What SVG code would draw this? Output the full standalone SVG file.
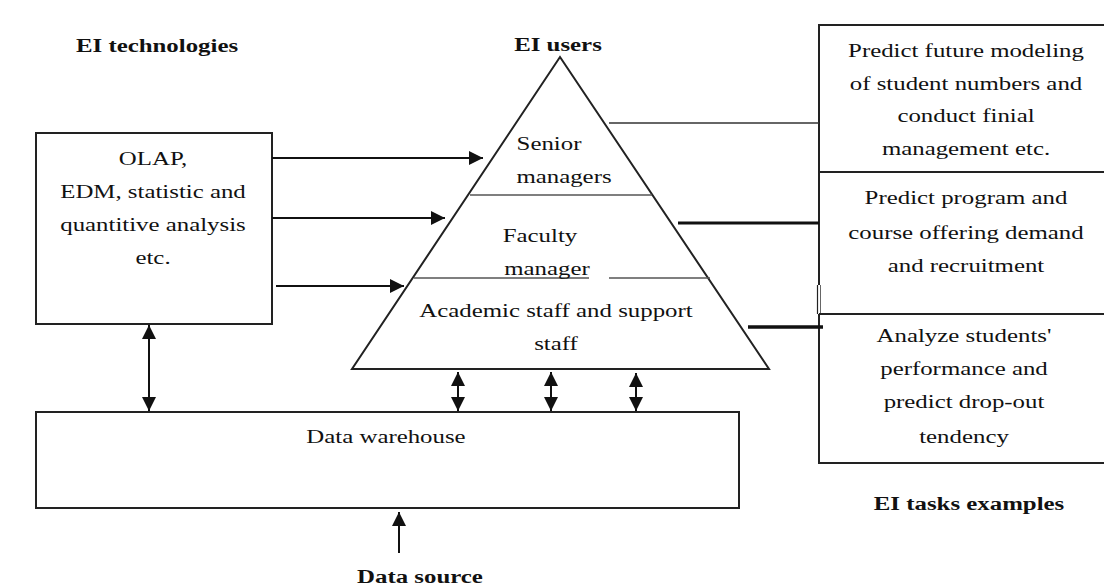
<svg xmlns="http://www.w3.org/2000/svg" width="1104" height="585" viewBox="0 0 1104 585">
  <style>
    .bg { fill: #ffffff; }
    .box { fill: none; stroke: #222; stroke-width: 2; }
    .div { fill: none; stroke: #555; stroke-width: 1.6; }
    .link { fill: none; stroke: #111; stroke-width: 2; }
    .t { font-family: "Liberation Serif", "Times New Roman", serif; font-size: 18px; fill: #111; text-anchor: middle; }
    .h { font-family: "Liberation Serif", "Times New Roman", serif; font-size: 18px; font-weight: bold; fill: #111; text-anchor: middle; }
  </style>
  <defs>
    <marker id="ah" viewBox="0 0 14 14" refX="14" refY="7" markerWidth="14" markerHeight="14" markerUnits="userSpaceOnUse" orient="auto-start-reverse">
      <path d="M0,0 L14,7 L0,14 z" fill="#111"/>
    </marker>
  </defs>

  <rect class="bg" x="0" y="0" width="1104" height="585"/>

  <!-- section headings -->
  <g id="headings">
    <text class="h" transform="matrix(1.38 0 0 1 157 52)">EI technologies</text>
    <text class="h" transform="matrix(1.38 0 0 1 558 51)">EI users</text>
    <text class="h" transform="matrix(1.38 0 0 1 969 510)">EI tasks examples</text>
    <text class="h" transform="matrix(1.38 0 0 1 420 583)">Data source</text>
  </g>

  <!-- analysis technologies -->
  <g id="technologies">
    <rect class="box" x="36" y="133" width="236" height="191"/>
    <text class="t" transform="matrix(1.38 0 0 1 153 165)">OLAP,</text>
    <text class="t" transform="matrix(1.38 0 0 1 153 198)">EDM, statistic and</text>
    <text class="t" transform="matrix(1.38 0 0 1 153 231)">quantitive analysis</text>
    <text class="t" transform="matrix(1.38 0 0 1 153 264)">etc.</text>
  </g>

  <!-- user pyramid -->
  <g id="users">
    <polygon class="box" points="560,57 352,369 769,369"/>
    <line class="div" x1="470" y1="195" x2="652" y2="195"/>
    <line class="div" x1="414" y1="278" x2="589" y2="278"/>
    <line class="div" x1="609" y1="278" x2="710" y2="278"/>
    <text class="t" transform="matrix(1.38 0 0 1 549 150)">Senior</text>
    <text class="t" transform="matrix(1.38 0 0 1 564 183)">managers</text>
    <text class="t" transform="matrix(1.38 0 0 1 540 242)">Faculty</text>
    <text class="t" transform="matrix(1.38 0 0 1 547 275)">manager</text>
    <text class="t" transform="matrix(1.38 0 0 1 556 317)">Academic staff and support</text>
    <text class="t" transform="matrix(1.38 0 0 1 556 350)">staff</text>
  </g>

  <!-- task examples -->
  <g id="tasks">
    <path class="box" d="M1110,25 H819 V285 M819,314 V463 H1110"/>
    <line x1="817.5" y1="285" x2="817.5" y2="314" stroke="#222" stroke-width="1.2"/>
    <line x1="820.5" y1="285" x2="820.5" y2="314" stroke="#666" stroke-width="1"/>
    <line class="box" x1="819" y1="172" x2="1110" y2="172"/>
    <line class="box" x1="819" y1="314" x2="1110" y2="314"/>
    <text class="t" transform="matrix(1.38 0 0 1 966 57)">Predict future modeling</text>
    <text class="t" transform="matrix(1.38 0 0 1 966 90)">of student numbers and</text>
    <text class="t" transform="matrix(1.38 0 0 1 966 122)">conduct finial</text>
    <text class="t" transform="matrix(1.38 0 0 1 966 155)">management etc.</text>
    <text class="t" transform="matrix(1.38 0 0 1 966 204)">Predict program and</text>
    <text class="t" transform="matrix(1.38 0 0 1 966 239)">course offering demand</text>
    <text class="t" transform="matrix(1.38 0 0 1 966 272)">and recruitment</text>
    <text class="t" transform="matrix(1.38 0 0 1 964 342)">Analyze students'</text>
    <text class="t" transform="matrix(1.38 0 0 1 964 375)">performance and</text>
    <text class="t" transform="matrix(1.38 0 0 1 964 408)">predict drop-out</text>
    <text class="t" transform="matrix(1.38 0 0 1 964 443)">tendency</text>
  </g>

  <!-- data warehouse -->
  <g id="warehouse">
    <rect class="box" x="36" y="412" width="703" height="96"/>
    <text class="t" transform="matrix(1.38 0 0 1 386 443)">Data warehouse</text>
  </g>

  <!-- connectors -->
  <g id="connectors">
    <line class="link" x1="272" y1="158" x2="483" y2="158" marker-end="url(#ah)"/>
    <line class="link" x1="272" y1="218" x2="445" y2="218" marker-end="url(#ah)"/>
    <line class="link" x1="276" y1="286" x2="404" y2="286" marker-end="url(#ah)"/>

    <line x1="609" y1="123" x2="819" y2="123" stroke="#333" stroke-width="1.6"/>
    <line x1="678" y1="223" x2="819" y2="223" stroke="#111" stroke-width="3"/>
    <line x1="748" y1="327" x2="823" y2="327" stroke="#111" stroke-width="3.5"/>

    <line class="link" x1="149" y1="325" x2="149" y2="411" marker-start="url(#ah)" marker-end="url(#ah)"/>
    <line class="link" x1="458" y1="372" x2="458" y2="411" marker-start="url(#ah)" marker-end="url(#ah)"/>
    <line class="link" x1="551" y1="372" x2="551" y2="411" marker-start="url(#ah)" marker-end="url(#ah)"/>
    <line class="link" x1="636" y1="373" x2="636" y2="411" marker-start="url(#ah)" marker-end="url(#ah)"/>

    <line class="link" x1="399" y1="553" x2="399" y2="512" marker-end="url(#ah)"/>
  </g>
</svg>
